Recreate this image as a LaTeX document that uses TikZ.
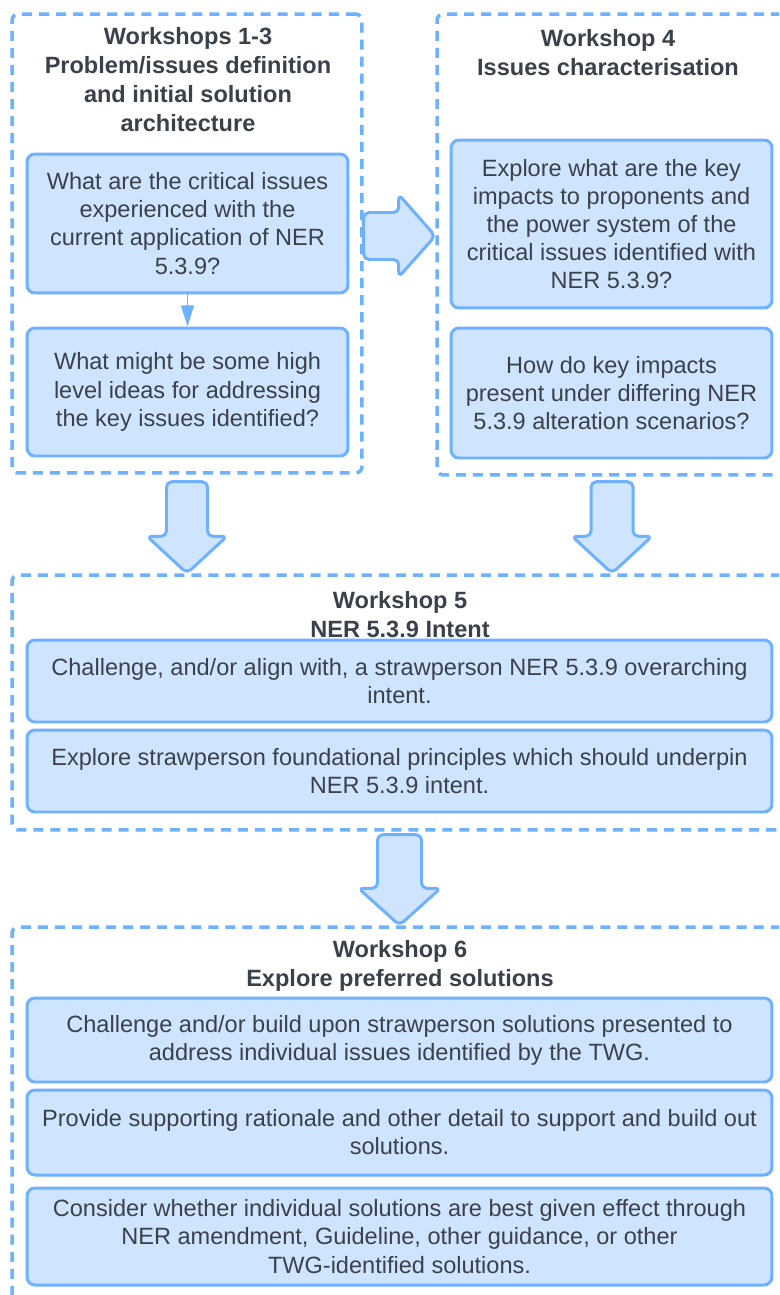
\documentclass[tikz,border=0pt]{standalone}
\usepackage{fontspec}
\setmainfont{Liberation Sans}
\usetikzlibrary{calc,arrows.meta}
\definecolor{wsline}{HTML}{6DB1FF}
\definecolor{wsfill}{HTML}{CFE4FF}
\definecolor{wstext}{HTML}{3A414A}
\tikzset{
  wsgroup/.style={draw=wsline, line width=2pt, dash pattern=on 5.7pt off 4pt, rounded corners=3.5pt, inner sep=0pt},
  wstask/.style={draw=wsline, fill=wsfill, line width=1.7pt, rounded corners=4.5pt, align=center, text=wstext, font=\fontsize{13.4}{16}\selectfont, inner sep=0pt},
  wshead/.style={align=center, text=wstext, font=\bfseries\fontsize{13.4}{16.5}\selectfont},
  wsarrow/.style={draw=wsline, fill=wsfill, line width=1.7pt, rounded corners=3pt, line join=round}
}
\begin{document}
\begin{tikzpicture}[x=0.02cm,y=-0.02cm]
    \useasboundingbox (0,0) rectangle (779,1295);
    \clip (0,0) rectangle (779,1295);

    % workshop groups
    \node (ws13) [wsgroup, minimum width=7cm, minimum height=9.18cm] at (187,243.5) {};
    \node (ws4) [wsgroup, minimum width=7cm, minimum height=9.22cm] at (612,244.5) {};
    \node (ws5) [wsgroup, minimum width=15.5cm, minimum height=5.1cm] at (399.5,702.5) {};
    \node (ws6) [wsgroup, minimum width=15.5cm, minimum height=7.5cm] at (399.5,1114.5) {};

    \node (t13) [wshead] at (188,80) {Workshops 1-3\\Problem/issues definition\\and initial solution\\architecture};
    \node (t4) [wshead] at (608,52.5) {Workshop 4\\Issues characterisation};
    \node (t5) [wshead] at (400,615) {Workshop 5\\NER 5.3.9 Intent};
    \node (t6) [wshead] at (400,965.5) {Workshop 6\\Explore preferred solutions};

    % questions
    \node (q1) [wstask, minimum width=6.42cm, minimum height=2.78cm] at (187.5,223.5) {What are the critical issues\\experienced with the\\current application of NER\\5.3.9?};
    \node (q2) [wstask, minimum width=6.42cm, minimum height=2.56cm] at (187.5,392) {What might be some high\\level ideas for addressing\\the key issues identified?};
    \node (q3) [wstask, minimum width=6.42cm, minimum height=3.36cm] at (611.5,224) {Explore what are the key\\impacts to proponents and\\the power system of the\\critical issues identified with\\NER 5.3.9?};
    \node (q4) [wstask, minimum width=6.42cm, minimum height=2.6cm] at (611.5,393) {How do key impacts\\present under differing NER\\5.3.9 alteration scenarios?};
    \node (q5) [wstask, minimum width=14.9cm, minimum height=1.64cm] at (399.5,681) {Challenge, and/or align with, a strawperson NER 5.3.9 overarching\\intent.};
    \node (q6) [wstask, minimum width=14.9cm, minimum height=1.64cm] at (399.5,771) {Explore strawperson foundational principles which should underpin\\NER 5.3.9 intent.};
    \node (q7) [wstask, minimum width=14.9cm, minimum height=1.68cm] at (399.5,1040) {Challenge and/or build upon strawperson solutions presented to\\address individual issues identified by the TWG.};
    \node (q8) [wstask, minimum width=14.9cm, minimum height=1.7cm] at (399.5,1132.5) {Provide supporting rationale and other detail to support and build out\\solutions.};
    \node (q9) [wstask, minimum width=14.9cm, minimum height=1.94cm] at (399.5,1236.5) {Consider whether individual solutions are best given effect through\\NER amendment, Guideline, other guidance, or other\\TWG-identified solutions.};

    \draw[wsline, line width=1.1pt, -{Triangle[width=7.3pt,length=12pt]}] (q1) -- (q2);

    % block arrows
    \draw[wsarrow] ($(ws13.east)+(0,-31)$) -- ++(35,0) -- ++(0,-18) -- ($(ws4.west)+(0,-8.5)$)
        -- ($(ws13.east)+(35,33.5)$) -- ++(0,-17.5) -- ($(ws13.east)+(0,16)$) -- cycle;
    \draw[wsarrow] ($(ws13.south)+(-20.5,7)$) -- ($(ws13.south)+(20.5,7)$) -- ($(ws13.south |- ws5.north)+(20.5,-37)$)
        -- ++(19.5,0) -- (ws13.south |- ws5.north) -- ($(ws13.south |- ws5.north)+(-40,-37)$) -- ++(19.5,0) -- cycle;
    \draw[wsarrow] ($(ws4.south)+(-21,5)$) -- ($(ws4.south)+(21,5)$) -- ($(ws4.south |- ws5.north)+(21,-37)$)
        -- ++(19,0) -- (ws4.south |- ws5.north) -- ($(ws4.south |- ws5.north)+(-40,-37)$) -- ++(19,0) -- cycle;
    \draw[wsarrow] ($(ws5.south)+(-22,3)$) -- ($(ws5.south)+(22,3)$) -- ($(ws5.south |- ws6.north)+(22,-37)$)
        -- ++(19,0) -- (ws5.south |- ws6.north) -- ($(ws5.south |- ws6.north)+(-41,-37)$) -- ++(19,0) -- cycle;
\end{tikzpicture}
\end{document}
